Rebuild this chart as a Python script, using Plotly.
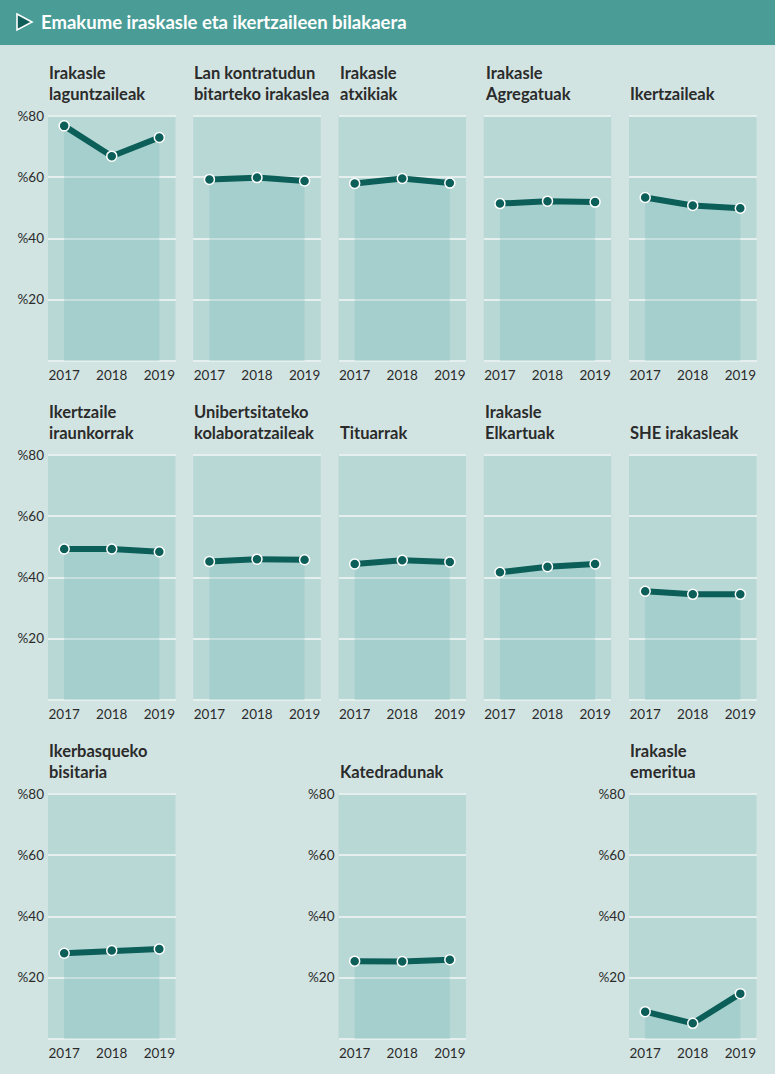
import plotly.graph_objects as go

# ---------------- data ----------------
years = [2017, 2018, 2019]
titles = [
    "Irakasle<br>laguntzaileak",
    "Lan kontratudun<br>bitarteko irakaslea",
    "Irakasle<br>atxikiak",
    "Irakasle<br>Agregatuak",
    "Ikertzaileak",
    "Ikertzaile<br>iraunkorrak",
    "Unibertsitateko<br>kolaboratzaileak",
    "Tituarrak",
    "Irakasle<br>Elkartuak",
    "SHE irakasleak",
    "Ikerbasqueko<br>bisitaria",
    "Katedradunak",
    "Irakasle<br>emeritua",
]
laguntzaileak = [76.8, 66.9, 73.0]
bitarteko = [59.3, 59.9, 58.8]
atxikiak = [58.0, 59.6, 58.1]
agregatuak = [51.4, 52.2, 51.9]
ikertzaileak = [53.4, 50.8, 49.9]
iraunkorrak = [49.3, 49.3, 48.4]
kolaboratzaileak = [45.2, 46.0, 45.8]
tituarrak = [44.4, 45.6, 45.1]
elkartuak = [41.7, 43.5, 44.4]
she = [35.5, 34.5, 34.5]
ikerbasque = [28.0, 28.9, 29.4]
katedradunak = [25.4, 25.3, 25.9]
emeritua = [8.9, 5.1, 14.8]
series = [laguntzaileak, bitarteko, atxikiak, agregatuak, ikertzaileak,
          iraunkorrak, kolaboratzaileak, tituarrak, elkartuak, she,
          ikerbasque, katedradunak, emeritua]
y_ticks = [20, 40, 60, 80]
main_title = "Emakume iraskasle eta ikertzaileen bilakaera"

# ---------------- layout geometry ----------------
W, H = 775, 1074
positions = [(0, 0), (0, 1), (0, 2), (0, 3), (0, 4),
             (1, 0), (1, 1), (1, 2), (1, 3), (1, 4),
             (2, 0), (2, 2), (2, 4)]
show_y = {0, 5, 10, 11, 12}
col_left = [48 + i * 145.25 for i in range(5)]
panel_w = 127.5
row_top = [115, 454, 793]
panel_h = 247

PAGE_BG = "#d2e4e2"
PANEL_BG = "#b8d8d6"
FILL = "rgba(124,186,181,0.30)"
LINE = "#0c5e59"
GRID = "#e4efee"
TEXT = "#2b2b2b"
HEADER = "#4a9d96"
FONT = "Lato"

fig = go.Figure()
layout = dict(
    width=W, height=H,
    margin=dict(l=0, r=0, t=0, b=0, pad=0, autoexpand=False),
    paper_bgcolor=PAGE_BG,
    plot_bgcolor=PANEL_BG,
    showlegend=False,
    font=dict(family=FONT, color=TEXT),
)
annotations = []
shapes = []

for i, (vals, (r, c)) in enumerate(zip(series, positions)):
    n = "" if i == 0 else str(i + 1)
    xa, ya = "x" + n, "y" + n
    x0 = col_left[c] / W
    x1 = (col_left[c] + panel_w) / W
    y1 = 1 - row_top[r] / H
    y0 = 1 - (row_top[r] + panel_h) / H
    layout["xaxis" + n] = dict(
        domain=[x0, x1], range=[2016.66, 2019.34], anchor=ya,
        tickvals=years, ticktext=[str(v) for v in years],
        showgrid=False, zeroline=False, showline=False, ticks="",
        tickfont=dict(size=13.5, color=TEXT, family=FONT),
        ticklabelstandoff=3,
        automargin=False, fixedrange=True,
    )
    layout["yaxis" + n] = dict(
        domain=[y0, y1], range=[-0.35, 80.35], anchor=xa,
        tickvals=[0] + y_ticks, ticktext=[""] + ["%" + str(v) for v in y_ticks],
        showticklabels=(i in show_y),
        showgrid=True, gridcolor=GRID, gridwidth=2,
        zeroline=False, showline=False, ticks="",
        tickfont=dict(size=13.5, color=TEXT, family=FONT),
        ticklabelstandoff=3,
        automargin=False, fixedrange=True,
    )
    # area under the line
    fig.add_trace(go.Scatter(
        x=years, y=vals, xaxis=xa, yaxis=ya, mode="lines",
        line=dict(width=0), fill="tozeroy", fillcolor=FILL,
        hoverinfo="skip",
    ))
    # line + markers
    fig.add_trace(go.Scatter(
        x=years, y=vals, xaxis=xa, yaxis=ya, mode="lines+markers",
        line=dict(color=LINE, width=6),
        marker=dict(size=10, color=LINE, line=dict(color="white", width=1.5)),
        cliponaxis=False,
    ))
    annotations.append(dict(
        xref="paper", yref="paper", x=x0 - 1 / W, y=y1 + 9 / H,
        xanchor="left", yanchor="bottom", align="left",
        text="<b>" + titles[i] + "</b>", showarrow=False,
        font=dict(size=16.5, color=TEXT, family=FONT),
    ))

# header bar
shapes.append(dict(type="rect", xref="paper", yref="paper",
                   x0=0, x1=1, y0=1 - 45 / H, y1=1,
                   fillcolor=HEADER, line=dict(width=0), layer="below"))
# header triangle icon
tx0, tx1 = 17 / W, 32 / W
ty_top, ty_bot, ty_mid = 1 - 14 / H, 1 - 30 / H, 1 - 22 / H
shapes.append(dict(type="path", xref="paper", yref="paper",
                   path=f"M {tx0} {ty_top} L {tx1} {ty_mid} L {tx0} {ty_bot} Z",
                   fillcolor="#0f5d58", line=dict(color="white", width=1.6)))
annotations.append(dict(
    xref="paper", yref="paper", x=39 / W, y=1 - 22 / H,
    xanchor="left", yanchor="middle", text="<b>" + main_title + "</b>",
    showarrow=False, font=dict(size=18.5, color="white", family=FONT),
))

layout["annotations"] = annotations
layout["shapes"] = shapes
fig.update_layout(**layout)

post = (
    "document.body.style.margin='0';"
    "document.body.style.overflow='hidden';"
    "document.body.style.background='" + PAGE_BG + "';"
    "var g=document.querySelector('.plotly-graph-div');"
    "if(g){g.style.position='fixed';g.style.top='0px';g.style.left='0px';}"
)
fig.write_html("out.html", post_script=post, config={"displayModeBar": False})
